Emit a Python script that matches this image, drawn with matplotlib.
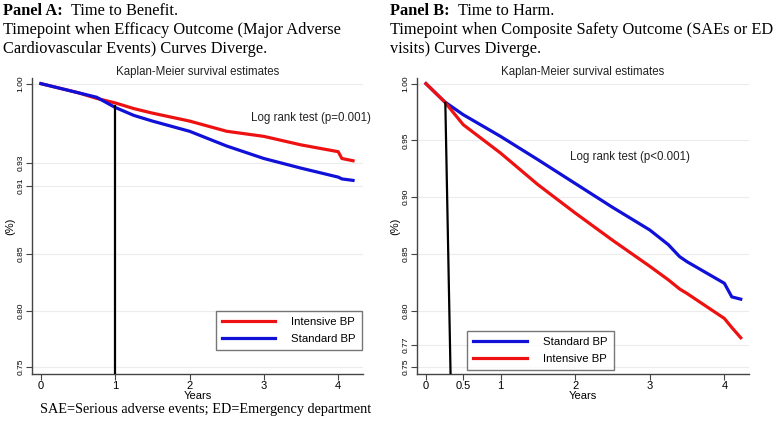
import matplotlib
matplotlib.use("Agg")
import matplotlib.pyplot as plt

# Panel A - efficacy outcome (MACE)
years_a = [0, 0.25, 0.5, 0.75, 1.0, 1.25, 1.5, 2.0, 2.5, 3.0, 3.5, 4.0, 4.05, 4.2]
intensive_a = [1.0, 0.996, 0.992, 0.987, 0.983, 0.978, 0.974, 0.967, 0.958, 0.9535, 0.946, 0.940, 0.934, 0.932]
standard_a = [1.0, 0.996, 0.992, 0.988, 0.979, 0.972, 0.967, 0.958, 0.945, 0.934, 0.9255, 0.9176, 0.916, 0.9147]
yticks_a = [0.75, 0.80, 0.85, 0.91, 0.93, 1.00]
diverge_a = ([1.0, 1.0], [0.980, 0.744])

# Panel B - composite safety outcome (SAEs or ED visits)
years_b = [0, 0.25, 0.5, 1.0, 1.5, 2.0, 2.5, 3.0, 3.25, 3.4, 3.5, 4.0, 4.1, 4.22]
standard_b = [1.0, 0.984, 0.9726, 0.9535, 0.933, 0.912, 0.891, 0.871, 0.858, 0.8475, 0.843, 0.824, 0.812, 0.810]
intensive_b = [1.0, 0.984, 0.9638, 0.9388, 0.911, 0.886, 0.862, 0.839, 0.827, 0.819, 0.815, 0.793, 0.785, 0.776]
yticks_b = [0.75, 0.77, 0.80, 0.85, 0.90, 0.95, 1.00]
diverge_b = ([0.26, 0.33], [0.983, 0.744])

xticks_a = [0, 1, 2, 3, 4]
xticks_b = [0, 0.5, 1, 2, 3, 4]

RED = "#ee1111"
BLUE = "#1010d8"
sans = "Liberation Sans"
serif = "Liberation Serif"

fig = plt.figure(figsize=(7.8, 4.26), dpi=100)


def km_panel(ax, xticks, yticks, series, vline, pval, ptxt_xy, leg_loc, leg_anchor):
    for yt in yticks:
        ax.axhline(yt, color="#ececec", lw=0.8, zorder=0)
    for x, y, c, lab in series:
        ax.plot(x, y, color=c, lw=2.3, label=lab, zorder=3)
    ax.plot(vline[0], vline[1], color="black", lw=1.6, zorder=4)
    ax.set_xlim(-0.12, 4.33)
    ax.set_ylim(0.744, 1.005)
    ax.set_xticks(xticks)
    ax.set_xticklabels([("%g" % t) for t in xticks], fontsize=8, family=sans)
    ax.set_yticks(yticks)
    ax.set_yticklabels(["%.2f" % t for t in yticks], fontsize=6, family=sans,
                       rotation=90, va="center")
    for s in ["top", "right"]:
        ax.spines[s].set_visible(False)
    for s in ["left", "bottom"]:
        ax.spines[s].set_color("#444444")
        ax.spines[s].set_linewidth(1.0)
    ax.tick_params(length=4, color="#444444", pad=1.2)
    ax.set_xlabel("Years", fontsize=8, family=sans, labelpad=-0.5)
    ax.set_ylabel("(%)", fontsize=8, family=sans, labelpad=2)
    ax.set_title("Kaplan-Meier survival estimates", fontsize=8.3, family=sans,
                 color="#222222", pad=2)
    ax.text(ptxt_xy[0], ptxt_xy[1], pval, fontsize=8.3, family=sans,
            color="#222222", va="center", transform=ax.transData)
    leg = ax.legend(loc=leg_loc, bbox_to_anchor=leg_anchor,
                    prop={"family": sans, "size": 8.2},
                    frameon=True, fancybox=False, handlelength=4.7,
                    handletextpad=1.4, borderpad=0.55, labelspacing=0.6,
                    borderaxespad=0)
    leg.get_frame().set_edgecolor("#555555")
    leg.get_frame().set_linewidth(1.0)


ax1 = fig.add_axes([0.041, 0.122, 0.424, 0.695])
km_panel(ax1, xticks_a, yticks_a,
         [(years_a, intensive_a, RED, "Intensive BP"),
          (years_a, standard_a, BLUE, "Standard BP")],
         diverge_a, "Log rank test (p=0.001)", (2.83, 0.970),
         "lower right", (0.998, 0.081))

ax2 = fig.add_axes([0.5346, 0.122, 0.4256, 0.695])
km_panel(ax2, xticks_b, yticks_b,
         [(years_b, standard_b, BLUE, "Standard BP"),
          (years_b, intensive_b, RED, "Intensive BP")],
         diverge_b, "Log rank test (p<0.001)", (1.93, 0.9355),
         "lower left", (0.151, 0.013))


def header(x, y, bold, rest):
    t = fig.text(x, y, bold, fontsize=11.8, family=serif, weight="bold",
                 va="top", ha="left")
    plt.annotate(rest, xy=(1, 0), xycoords=t, fontsize=11.8,
                 family=serif, va="bottom", ha="left")


header(0.004, 0.993, "Panel A:", "  Time to Benefit.")
fig.text(0.004, 0.948, "Timepoint when Efficacy Outcome (Major Adverse\nCardiovascular Events) Curves Diverge.",
         fontsize=11.8, family=serif, va="top", ha="left", linespacing=1.27)
header(0.5, 0.993, "Panel B:", "  Time to Harm.")
fig.text(0.5, 0.948, "Timepoint when Composite Safety Outcome (SAEs or ED\nvisits) Curves Diverge.",
         fontsize=11.8, family=serif, va="top", ha="left", linespacing=1.27)

fig.text(0.051, 0.038, "SAE=Serious adverse events; ED=Emergency department",
         fontsize=10.3, family=serif, va="center", ha="left")

fig.savefig("out.png", dpi=100)
